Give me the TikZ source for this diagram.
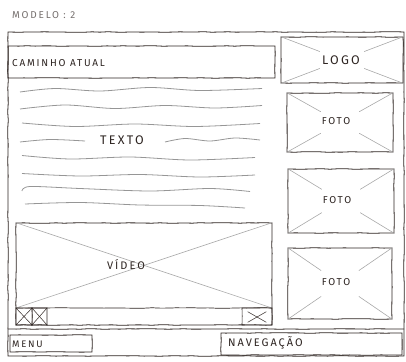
\documentclass[tikz,border=0pt]{standalone}
\usepackage{fontspec}
\setmainfont{Fira Sans}[LetterSpace=18]
\usetikzlibrary{decorations.pathmorphing,calc}
\definecolor{ink}{HTML}{2E2522}
\definecolor{pencil}{HTML}{A8A8A8}
\definecolor{wavy}{HTML}{969696}
\tikzset{
  sketch/.style={decorate, decoration={random steps, segment length=8pt, amplitude=0.3pt}},
  box/.style={draw=ink, line width=0.8pt, sketch, inner sep=0pt, rectangle},
  hint/.style={draw=pencil, line width=0.6pt},
  wave/.style={draw=wavy, line width=0.8pt},
  lbl/.style={text=ink, inner sep=0pt, font=\fontsize{10}{10}\selectfont},
  biglbl/.style={lbl, font=\fontsize{12.5}{12}\selectfont}
}
\begin{document}
\pgfmathsetseed{7}
\begin{tikzpicture}[x=1pt, y=-1pt]
  \useasboundingbox (0,0) rectangle (406,361);

  % page frame and title
  \node[box, minimum width=396pt, minimum height=324pt] (frame) at (206,194) {};
  \node[lbl, anchor=west, text=ink!65] (title) at (12,15) {MODELO : 2};

  % header
  \node[box, minimum width=267pt, minimum height=32pt] (path) at (141.5,62) {};
  \node[lbl, anchor=west] (pathlbl) at (12,63) {CAMINHO ATUAL};
  \node[box, minimum width=122pt, minimum height=46pt] (logo) at (342,60) {};
  \node[biglbl] (logolbl) at (341,60) {LOGO};

  % photo column
  \node[box, minimum width=106pt, minimum height=59pt] (foto1) at (340,122.5) {};
  \node[box, minimum width=106pt, minimum height=64pt] (foto2) at (341,201) {};
  \node[box, minimum width=104pt, minimum height=71pt] (foto3) at (340,283.5) {};
  \foreach \f in {foto1,foto2,foto3}
    \node[lbl] (\f lbl) at ($(\f.center)+(-4,-1)$) {FOTO};

  % broken crosses on image placeholders
  \foreach \n in {logo,foto1,foto2,foto3} {
    \draw[hint] (\n.north west) -- ($(\n.north west)!0.32!(\n.south east)$);
    \draw[hint] (\n.south east) -- ($(\n.south east)!0.32!(\n.north west)$);
    \draw[hint] (\n.north east) -- ($(\n.north east)!0.32!(\n.south west)$);
    \draw[hint] (\n.south west) -- ($(\n.south west)!0.32!(\n.north east)$);
  }

  % body text
  \draw[wave] plot[smooth] coordinates {(20,92) (55,88.5) (100,91) (150,87.5) (200,90.5) (262,88.5)};
  \draw[wave] plot[smooth] coordinates {(20,109) (65,105) (115,108.5) (165,105.5) (215,108) (262,105.5)};
  \draw[wave] plot[smooth] coordinates {(22,123) (75,126.5) (135,124) (195,126.5) (260,123.5)};
  \draw[wave] plot[smooth] coordinates {(20,142) (50,139.5) (85,141)};
  \draw[wave] plot[smooth] coordinates {(165,142) (185,138.5) (210,141) (235,138) (260,140)};
  \draw[wave] plot[smooth] coordinates {(22,155.5) (70,159) (130,157) (190,160) (255,157.5)};
  \draw[wave] plot[smooth] coordinates {(22,173.5) (80,176) (140,174.5) (200,177) (255,175)};
  \draw[wave] plot[smooth] coordinates {(22,191) (30,186.5) (80,188.5) (150,191) (210,188.5) (250,191.5)};
  \draw[wave] plot[smooth] coordinates {(25,204) (80,202.5) (140,205) (200,205.5) (245,208)};
  \node[biglbl] (texto) at (122,140) {TEXTO};

  % video player
  \node[box, minimum width=256pt, minimum height=102pt] (video) at (144,274) {};
  \coordinate (barL) at (16,308);
  \coordinate (barR) at (272,308);
  \draw[ink, line width=0.7pt, sketch] (barL) -- (barR);
  \draw[hint] (video.north west) -- (barR);
  \draw[hint] (video.north east) -- (barL);
  \node[lbl, font=\fontsize{11}{11}\selectfont] (videolbl) at (126,265) {VÍDEO};
  \node[box, line width=0.6pt, minimum width=16pt, minimum height=17pt] (ctl1) at (24,316.5) {};
  \node[box, line width=0.6pt, minimum width=15pt, minimum height=17pt] (ctl2) at (39.5,316.5) {};
  \node[box, line width=0.6pt, minimum width=30pt, minimum height=17pt] (ctl3) at (257,316.5) {};
  \foreach \c in {ctl1,ctl2} {
    \draw[ink, line width=0.5pt] (\c.north west) -- (\c.south east);
    \draw[ink, line width=0.5pt] (\c.north east) -- (\c.south west);
  }
  \draw[ink, line width=0.5pt] ($(ctl3.north west)+(6,4)$) -- ($(ctl3.south east)+(-6,-3)$);
  \draw[ink, line width=0.5pt] ($(ctl3.north east)+(-6,4)$) -- ($(ctl3.south west)+(6,-3)$);

  % footer
  \coordinate (footL) at (8,329);
  \coordinate (footR) at (404,329);
  \draw[ink, line width=0.8pt, sketch] (footL) -- (footR);
  \node[box, minimum width=82pt, minimum height=17pt] (menu) at (51,343.5) {};
  \node[lbl, anchor=west, font=\fontsize{9.5}{9}\selectfont] (menulbl) at (12,344) {MENU};
  \node[box, minimum width=181pt, minimum height=22pt] (nav) at (311.5,344) {};
  \node[lbl, anchor=west, font=\fontsize{11}{11}\selectfont] (navlbl) at (228,343) {NAVEGAÇÃO};
\end{tikzpicture}
\end{document}
